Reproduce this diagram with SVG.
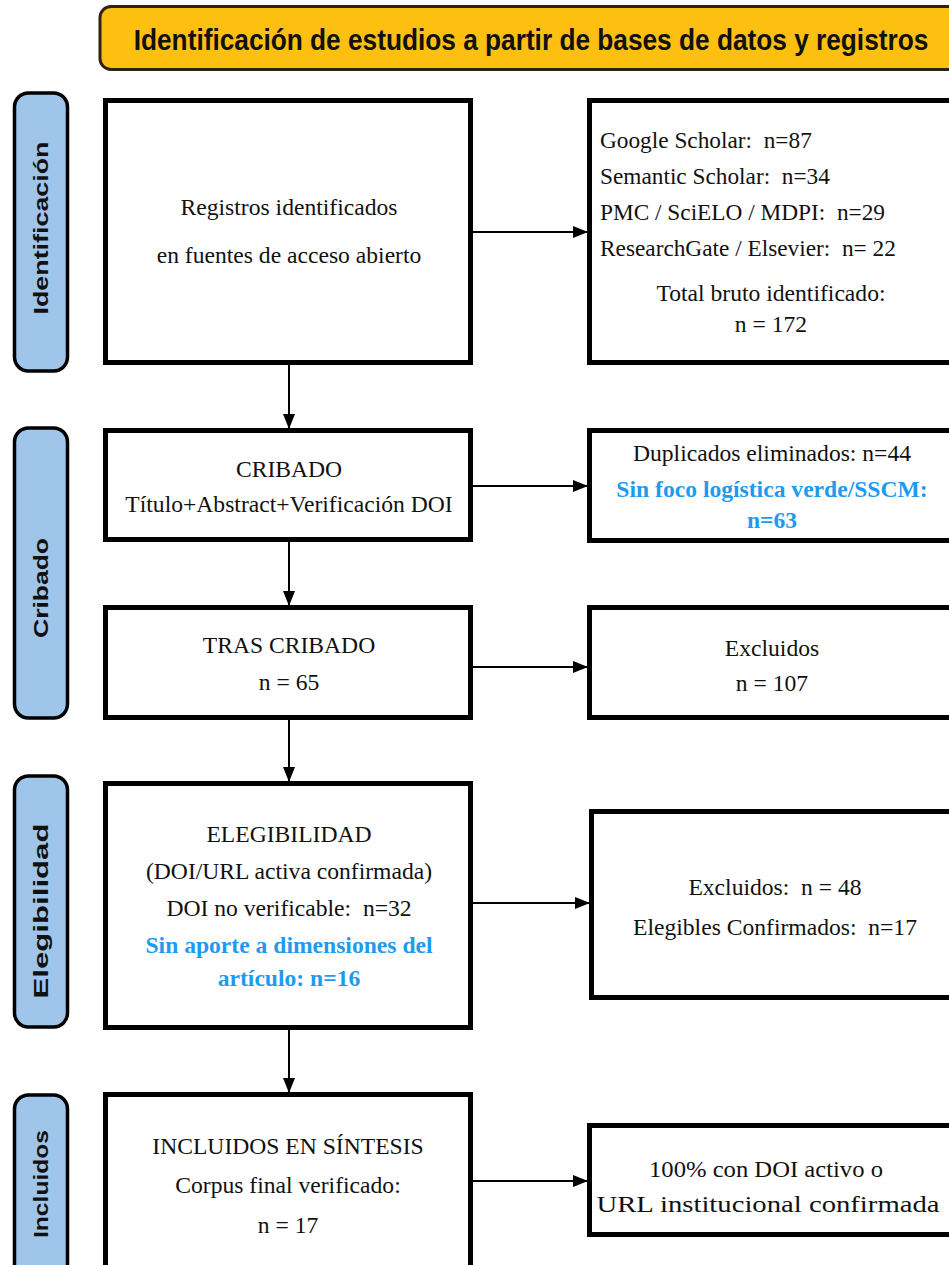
<svg xmlns="http://www.w3.org/2000/svg" width="949" height="1265" viewBox="0 0 949 1265">
<style>
.box{fill:#fff;stroke:#000;stroke-width:5}
.tab{fill:#9fc5ea;stroke:#000;stroke-width:3.5}
.tabt{font-family:"Liberation Sans",Arial,sans-serif;font-weight:bold;font-size:21px;fill:#111;text-anchor:middle}
.t{font-family:"Liberation Serif","Times New Roman",serif;font-size:23.6px;fill:#111;text-anchor:middle}
.tl{font-family:"Liberation Serif","Times New Roman",serif;font-size:23.3px;fill:#111}
.b{font-family:"Liberation Serif","Times New Roman",serif;font-size:23.6px;font-weight:bold;fill:#1e9bef;text-anchor:middle}
.c{fill:none;stroke:#000;stroke-width:2}
</style>
<defs>
<marker id="ah" markerWidth="15" markerHeight="12" refX="14" refY="6" orient="auto" markerUnits="userSpaceOnUse">
<path d="M0,0 L15,6 L0,12 Z" fill="#000"/>
</marker>
</defs>
<rect width="949" height="1265" fill="#fff"/>
<g id="header">
<rect x="100" y="6.5" width="870" height="63" rx="11" fill="#fdbf10" stroke="#2e2216" stroke-width="3"/>
<text transform="translate(531,50) scale(0.875,1)" x="0" y="0" font-family="Liberation Sans,Arial,sans-serif" font-weight="bold" font-size="30" text-anchor="middle" fill="#111">Identificación de estudios a partir de bases de datos y registros</text>
</g>
<g id="tab-identificacion">
<rect x="14.5" y="93" width="53" height="278" rx="14" class="tab"/>
<text class="tabt" transform="translate(48,228) rotate(-90)" textLength="173" lengthAdjust="spacingAndGlyphs">Identificación</text>
</g>
<g id="tab-cribado">
<rect x="14.5" y="428" width="53" height="290" rx="14" class="tab"/>
<text class="tabt" transform="translate(48,588) rotate(-90)" textLength="100" lengthAdjust="spacingAndGlyphs">Cribado</text>
</g>
<g id="tab-elegibilidad">
<rect x="14.5" y="776" width="53" height="251" rx="14" class="tab"/>
<text class="tabt" transform="translate(48,911) rotate(-90)" textLength="175" lengthAdjust="spacingAndGlyphs">Elegibilidad</text>
</g>
<g id="tab-incluidos">
<rect x="14.5" y="1095" width="53" height="200" rx="14" class="tab"/>
<text class="tabt" transform="translate(48,1184) rotate(-90)" textLength="108" lengthAdjust="spacingAndGlyphs">Incluidos</text>
</g>
<g id="n-registros">
<rect x="105.5" y="100.5" width="365" height="262" class="box"/>
<text class="t" x="289" y="215">Registros identificados</text>
<text class="t" x="289" y="263">en fuentes de acceso abierto</text>
</g>
<g id="n-fuentes">
<rect x="589.5" y="100.5" width="380" height="262" class="box"/>
<text class="tl" x="600" y="148" xml:space="preserve">Google Scholar:  n=87</text>
<text class="tl" x="600" y="184" xml:space="preserve">Semantic Scholar:  n=34</text>
<text class="tl" x="600" y="220" xml:space="preserve">PMC / SciELO / MDPI:  n=29</text>
<text class="tl" x="600" y="256" font-size="20" xml:space="preserve">ResearchGate / Elsevier:  n= 22</text>
<text class="t" x="771" y="301" font-size="22.5">Total bruto identificado:</text>
<text class="t" x="771" y="332" font-size="22.5">n = 172</text>
</g>
<g id="n-cribado">
<rect x="105.5" y="430.5" width="365" height="109" class="box"/>
<text class="t" x="289" y="477">CRIBADO</text>
<text class="t" x="289" y="512">Título+Abstract+Verificación DOI</text>
</g>
<g id="n-duplicados">
<rect x="589.5" y="430.5" width="380" height="110" class="box"/>
<text class="t" x="772" y="461">Duplicados eliminados: n=44</text>
<text class="b" x="772" y="497">Sin foco logística verde/SSCM:</text>
<text class="b" x="772" y="528">n=63</text>
</g>
<g id="n-tras">
<rect x="105.5" y="607.5" width="365" height="110" class="box"/>
<text class="t" x="289" y="653">TRAS CRIBADO</text>
<text class="t" x="289" y="690">n = 65</text>
</g>
<g id="n-excluidos1">
<rect x="589.5" y="607.5" width="380" height="110" class="box"/>
<text class="t" x="772" y="656">Excluidos</text>
<text class="t" x="772" y="691">n = 107</text>
</g>
<g id="n-elegibilidad">
<rect x="105.5" y="783.5" width="365" height="244" class="box"/>
<text class="t" x="289" y="842">ELEGIBILIDAD</text>
<text class="t" x="289" y="879">(DOI/URL activa confirmada)</text>
<text class="t" x="289" y="916" xml:space="preserve">DOI no verificable:  n=32</text>
<text class="b" x="289" y="953">Sin aporte a dimensiones del</text>
<text class="b" x="289" y="986">artículo: n=16</text>
</g>
<g id="n-excluidos2">
<rect x="591.5" y="811.5" width="380" height="186" class="box"/>
<text class="t" x="775" y="895" font-size="26" xml:space="preserve">Excluidos:  n = 48</text>
<text class="t" x="775" y="935" font-size="26" xml:space="preserve">Elegibles Confirmados:  n=17</text>
</g>
<g id="n-incluidos">
<rect x="105.5" y="1094.5" width="365" height="200" class="box"/>
<text class="t" x="288" y="1154" font-size="26">INCLUIDOS EN SÍNTESIS</text>
<text class="t" x="288" y="1193" font-size="26">Corpus final verificado:</text>
<text class="t" x="288" y="1233" font-size="26">n = 17</text>
</g>
<g id="n-doi">
<rect x="589.5" y="1125.5" width="380" height="109" class="box"/>
<text class="t" x="766" y="1177" font-size="25" textLength="234" lengthAdjust="spacingAndGlyphs">100% con DOI activo o</text>
<text class="t" x="768" y="1212" font-size="25" textLength="343" lengthAdjust="spacingAndGlyphs">URL institucional confirmada</text>
</g>
<g id="connectors">
<line class="c" x1="473" y1="232" x2="587" y2="232" marker-end="url(#ah)"/>
<line class="c" x1="289" y1="365" x2="289" y2="428" marker-end="url(#ah)"/>
<line class="c" x1="473" y1="486" x2="587" y2="486" marker-end="url(#ah)"/>
<line class="c" x1="289" y1="542" x2="289" y2="605" marker-end="url(#ah)"/>
<line class="c" x1="473" y1="667" x2="587" y2="667" marker-end="url(#ah)"/>
<line class="c" x1="289" y1="720" x2="289" y2="781" marker-end="url(#ah)"/>
<line class="c" x1="473" y1="903" x2="589" y2="903" marker-end="url(#ah)"/>
<line class="c" x1="289" y1="1030" x2="289" y2="1092" marker-end="url(#ah)"/>
<line class="c" x1="473" y1="1181" x2="587" y2="1181" marker-end="url(#ah)"/>
</g>
</svg>
